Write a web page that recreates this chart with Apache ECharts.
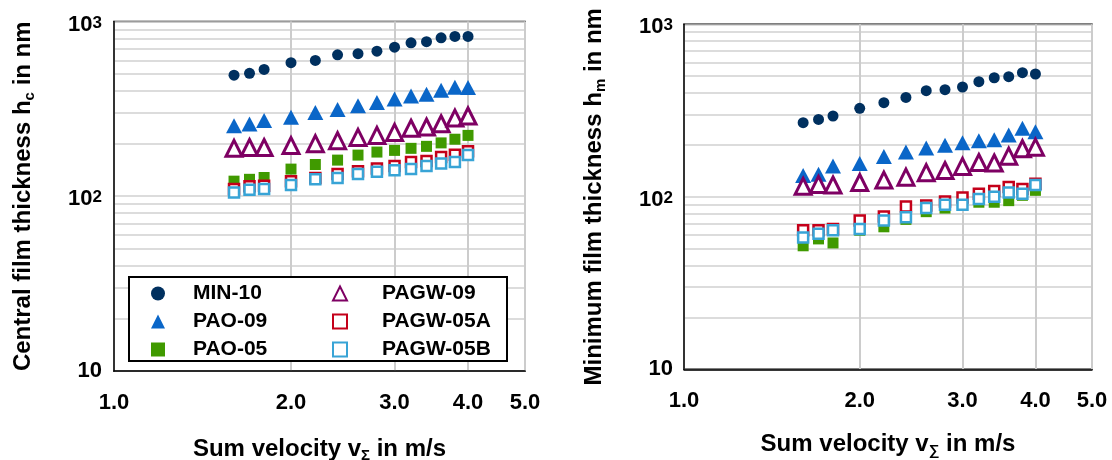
<!DOCTYPE html>
<html>
<head>
<meta charset="utf-8">
<title>Film thickness vs sum velocity</title>
<script src="https://cdn.jsdelivr.net/npm/echarts@6/dist/echarts.min.js"></script>
<style>
    html, body { margin: 0; padding: 0; background: #fff; }
    #chart { width: 1112px; height: 460px; }
</style>
</head>
<body>
<div id="chart"></div>
<script>
// 横轴：合速度 (m/s)
const velocity = [1.6, 1.7, 1.8, 2.0, 2.2, 2.4, 2.6, 2.8, 3.0, 3.2, 3.4, 3.6, 3.8, 4.0];

// 左图：中心膜厚 hc (nm)
const hcMin10 = [493, 505, 532, 581, 599, 645, 654, 676, 713, 755, 766, 807, 821, 821];
const hcPao09 = [253, 259, 271, 283, 301, 314, 330, 344, 360, 375, 383, 404, 421, 419];
const hcPao05 = [122, 125, 128, 143, 152, 161, 172, 179, 183, 188, 193, 202, 212, 223];
const hcPagw09 = [188, 190, 190, 195, 200, 208, 217, 223, 232, 245, 249, 260, 280, 288];
const hcPagw05A = [110, 114, 115, 122, 127, 134, 139, 144, 149, 157, 159, 168, 173, 181];
const hcPagw05B = [105, 109, 110, 116, 125, 127, 134, 138, 141, 143, 149, 154, 157, 172];

// 右图：最小膜厚 hm (nm)
const hmMin10 = [269, 281, 294, 326, 351, 377, 412, 418, 433, 465, 490, 497, 524, 515];
const hmPao09 = [133, 135, 151, 156, 171, 182, 192, 199, 206, 211, 214, 228, 250, 238];
const hmPao05 = [52, 57, 54, 64, 67, 74, 82, 86, 89, 93, 93, 95, 102, 109];
const hmPagw09 = [115, 118, 117, 121, 125, 130, 138, 142, 150, 158, 157, 172, 190, 194];
const hmPagw05A = [64, 64, 65, 73, 77, 88, 89, 94, 99, 104, 108, 114, 111, 119];
const hmPagw05B = [58, 61, 64, 65, 73, 76, 86, 90, 90, 97, 100, 106, 104, 117];

// 刻度
const xLabelTicks = [1, 2, 3, 4, 5];
const yLabelTicks = [10, 100, 1000];
const yGridTicks = [10, 20, 30, 40, 50, 60, 70, 80, 90, 100, 200, 300, 400, 500, 600, 700, 800, 900, 1000];

const seriesNames = ['MIN-10', 'PAO-09', 'PAO-05', 'PAGW-09', 'PAGW-05A', 'PAGW-05B'];

const FONT = 'Liberation Sans, Arial, sans-serif';

// 每个系列的标记样式
const markerStyles = {
    'MIN-10':   { symbol: 'circle',   size: 11,       itemStyle: { color: '#00305f', opacity: 1 } },
    'PAO-09':   { symbol: 'triangle', size: [16, 15], itemStyle: { color: '#0a66c8', opacity: 1 } },
    'PAO-05':   { symbol: 'rect',     size: 11,       itemStyle: { color: '#409a00', opacity: 1 } },
    'PAGW-09':  { symbol: 'triangle', size: 16,       itemStyle: { color: '#fff', borderColor: '#7e0063', borderWidth: 3, opacity: 1 } },
    'PAGW-05A': { symbol: 'rect',     size: 10,       itemStyle: { color: '#fff', borderColor: '#c4001a', borderWidth: 2.5, opacity: 1 } },
    'PAGW-05B': { symbol: 'rect',     size: 10,       itemStyle: { color: '#fff', borderColor: '#38a4d6', borderWidth: 2.5, opacity: 1 } }
};

function pairs(ys) {
    return velocity.map((v, i) => [v, ys[i]]);
}

function buildSeries(gridIndex, data) {
    return seriesNames.map((name, i) => ({
        name: name,
        type: 'scatter',
        xAxisIndex: gridIndex,
        yAxisIndex: gridIndex,
        symbol: markerStyles[name].symbol,
        symbolSize: markerStyles[name].size,
        itemStyle: markerStyles[name].itemStyle,
        data: pairs(data[i]),
        emphasis: { disabled: true }
    }));
}

const nameRich = {
    a: { fontFamily: FONT, fontWeight: 'bold', fontSize: 24, color: '#000', lineHeight: 28 },
    s: { fontFamily: FONT, fontWeight: 'bold', fontSize: 15, color: '#000', lineHeight: 15, verticalAlign: 'bottom' }
};

function xAxisFor(gridIndex, sumChar, nameGap) {
    return {
        type: 'log',
        gridIndex: gridIndex,
        min: 1,
        max: 5,
        logBase: 10,
        name: '{a|Sum velocity v}{s|' + sumChar + '}{a| in m/s}',
        nameLocation: 'middle',
        nameGap: nameGap,
        nameMoveOverlap: false,
        nameTextStyle: { rich: nameRich },
        axisLine: { show: true, lineStyle: { color: '#000', width: 1.5 } },
        axisTick: { show: false, customValues: xLabelTicks },
        axisLabel: {
            customValues: xLabelTicks,
            margin: 21,
            fontFamily: FONT,
            fontWeight: 'bold',
            fontSize: 22,
            color: '#000',
            formatter: v => Number(v).toFixed(1)
        },
        splitLine: { show: true, lineStyle: { color: '#cccccc', width: 2 } },
        minorTick: { show: false },
        minorSplitLine: { show: false }
    };
}

function yAxisFor(gridIndex, name, nameGap, labelMargin) {
    return {
        type: 'log',
        gridIndex: gridIndex,
        min: 10,
        max: 1000,
        logBase: 10,
        name: name,
        nameLocation: 'middle',
        nameGap: nameGap,
        nameMoveOverlap: false,
        nameTextStyle: { rich: nameRich },
        axisLine: { show: true, lineStyle: { color: '#000', width: 1.5 } },
        axisTick: { show: false, customValues: yGridTicks },
        axisLabel: {
            customValues: yLabelTicks,
            margin: labelMargin,
            verticalAlign: 'middle',
            formatter: function (v) {
                const e = Math.round(Math.log10(v));
                if (e === 1) return '{c|10}';
                return '{b|10}{p|' + e + '}';
            },
            rich: {
                b: { fontFamily: FONT, fontWeight: 'bold', fontSize: 22, color: '#000', lineHeight: 26, padding: [6, 0, 0, 0] },
                p: { fontFamily: FONT, fontWeight: 'bold', fontSize: 17, color: '#000', lineHeight: 14, padding: [6, 0, 0, 0], verticalAlign: 'top' },
                c: { fontFamily: FONT, fontWeight: 'bold', fontSize: 22, color: '#000', lineHeight: 14 }
            }
        },
        splitLine: { show: true, lineStyle: { color: '#d0d0d0', width: 1.5 } },
        minorTick: { show: false },
        minorSplitLine: { show: false }
    };
}

const chart = echarts.init(document.getElementById('chart'), null, { renderer: 'canvas' });

const option = {
    animation: false,
    backgroundColor: '#fff',
    grid: [
        { left: 114, top: 21.5, width: 411, height: 349.5, outerBoundsMode: 'none', containLabel: false, show: true, borderColor: '#000', borderWidth: 1.5, backgroundColor: 'transparent' },
        { left: 684, top: 24.3, width: 408, height: 345, outerBoundsMode: 'none', containLabel: false, show: true, borderColor: '#000', borderWidth: 1.5, backgroundColor: 'transparent' }
    ],
    xAxis: [
        xAxisFor(0, 'Σ', 64),
        xAxisFor(1, '∑', 61)
    ],
    yAxis: [
        yAxisFor(0, '{a|Central film thickness h}{s|c}{a| in nm}', 77, 12),
        yAxisFor(1, '{a|Minimum film thickness h}{s|m}{a| in nm}', 76, 11)
    ],
    legend: {
        orient: 'vertical',
        left: 129,
        top: 277,
        height: 94,
        padding: [6, 14, 1, 22],
        itemGap: 7,
        itemWidth: 14,
        itemHeight: 14,
        borderColor: '#000',
        borderWidth: 2,
        backgroundColor: '#fff',
        selectedMode: false,
        data: seriesNames,
        formatter: function (name) {
            return seriesNames.indexOf(name) < 3 ? '{a|' + name + '}' : '{b|' + name + '}';
        },
        textStyle: {
            rich: {
                a: { fontFamily: FONT, fontWeight: 'bold', fontSize: 21, color: '#000', width: 133, lineHeight: 14, padding: [0, 0, 0, 23] },
                b: { fontFamily: FONT, fontWeight: 'bold', fontSize: 21, color: '#000', width: 111, lineHeight: 14, padding: [0, 0, 0, 30] }
            }
        }
    },
    series: [].concat(
        buildSeries(0, [hcMin10, hcPao09, hcPao05, hcPagw09, hcPagw05A, hcPagw05B]),
        buildSeries(1, [hmMin10, hmPao09, hmPao05, hmPagw09, hmPagw05A, hmPagw05B])
    )
};

chart.setOption(option);
</script>
</body>
</html>
